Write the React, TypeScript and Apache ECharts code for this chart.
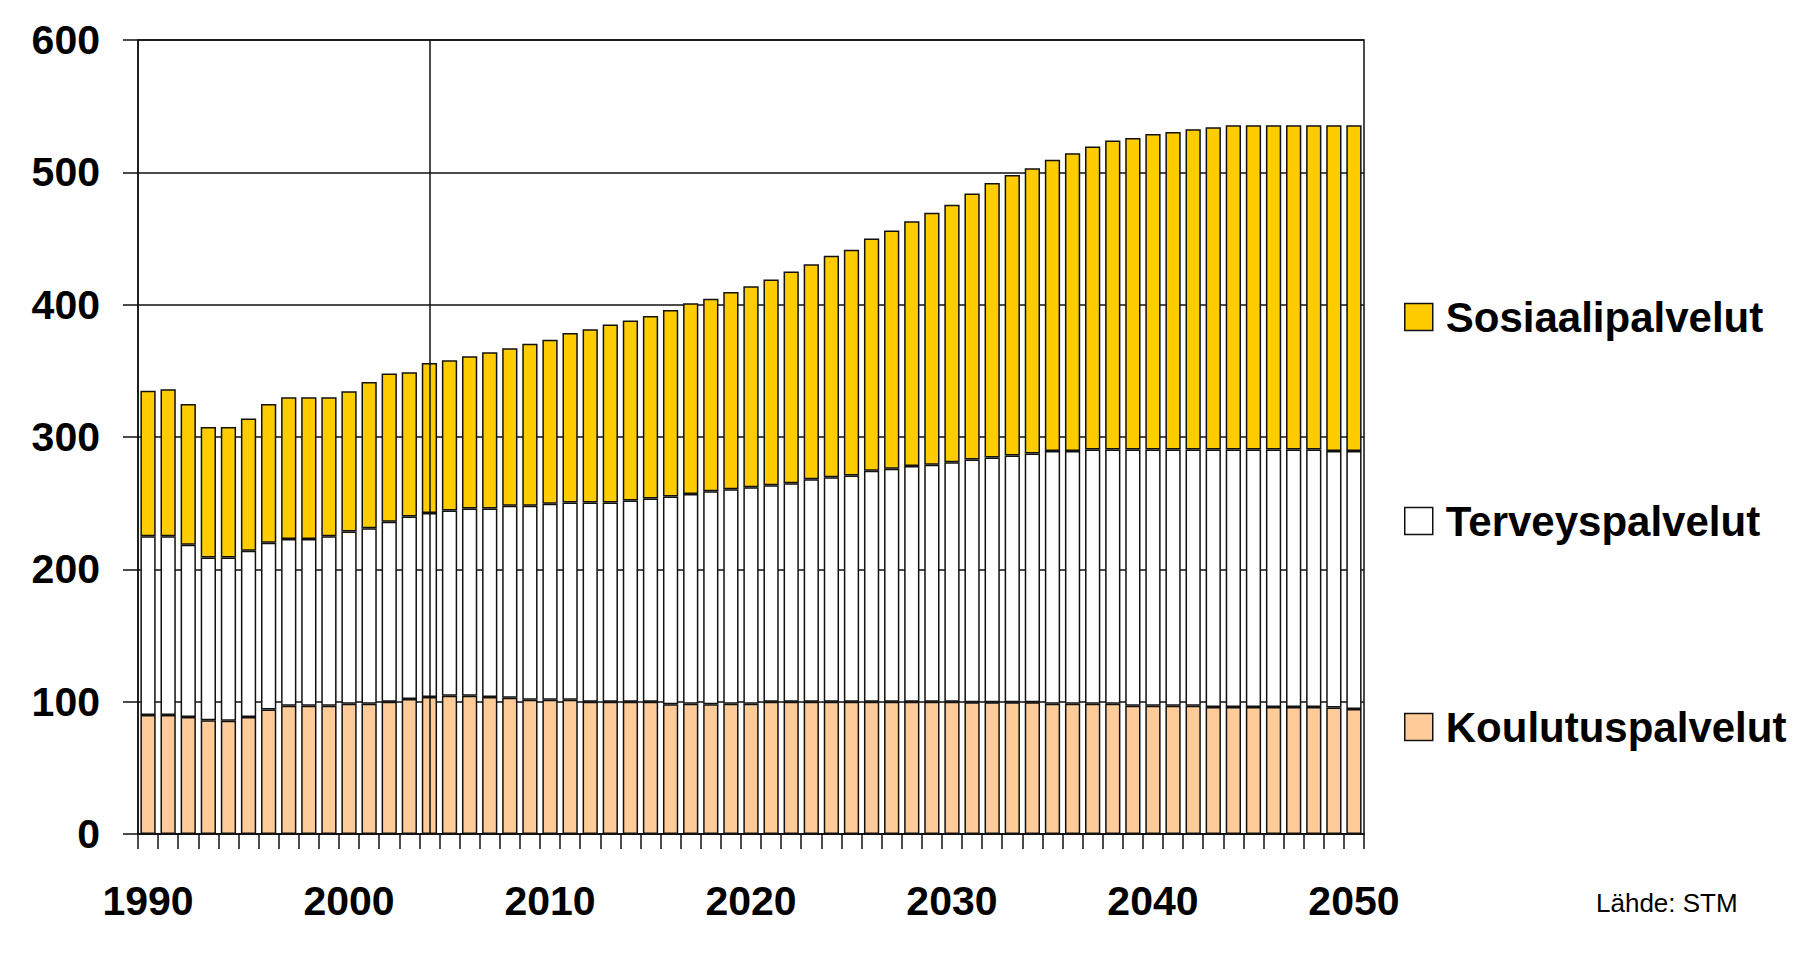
import React, { useEffect, useRef } from "react";
import * as echarts from "echarts";

const years: string[] = [];
for (let y = 1990; y <= 2050; y++) years.push(String(y));

// Segment values, order 1990..2050
const koulutus = [
  90, 90, 88.5, 86, 85.5, 88.5, 94, 97, 97, 97,
  98.5, 98.5, 100, 102, 103.5, 104.5, 104.5, 103.5, 103, 101.5,
  101.5, 101.5, 100, 100, 100, 100, 98, 98.5, 98, 98.5,
  98.5, 100, 100, 100, 100, 100, 100, 100, 100, 100,
  100, 99.5, 99.5, 99.5, 99.5, 98.5, 98.5, 98.5, 98.5, 97,
  97, 97, 97, 96, 96, 96, 96, 96, 96, 95.5,
  94.5,
];
const terveys = [
  135, 135, 130, 123, 123.5, 125.5, 126, 126, 126, 128,
  130, 132.5, 136, 138, 139, 140, 141.5, 142.5, 145, 146.5,
  148, 149, 150.5, 150.5, 152, 153.5, 157, 158.5, 161, 162,
  163.5, 163.5, 165, 168, 169.5, 171, 174.5, 176, 178, 179,
  181, 183.5, 185, 186.5, 188, 191, 191, 192, 192, 193.5,
  193.5, 193.5, 193.5, 194.5, 194.5, 194.5, 194.5, 194.5, 194.5, 194,
  195,
];
const sosiaali = [
  110, 111, 106.5, 98.5, 98.5, 100, 105, 107, 107, 105,
  106, 110.5, 112, 109, 113.5, 113.5, 115, 118, 119, 122.5,
  124, 128, 131, 134.5, 136, 138, 141, 144, 145.5, 149,
  152, 155.5, 160, 162.5, 167.5, 170.5, 175.5, 180, 185, 190.5,
  194.5, 201, 207.5, 212, 215.5, 220, 225, 229, 233.5, 235.5,
  238.5, 240, 242, 243.5, 245, 245, 245, 245, 245, 246,
  246,
];

const markerYear = "2004";
const sourceText = "Lähde: STM";

const FONT = "'Liberation Sans', Arial, sans-serif";
const COLORS = { sos: "#FFCC00", ter: "#FFFFFF", kou: "#FFCC99" };

export default function App() {
  const ref = useRef<HTMLDivElement>(null);
  useEffect(() => {
    if (!ref.current) return;
    const chart = echarts.init(ref.current, undefined, { renderer: "svg" });
    const barStyle = (color: string) => ({
      color,
      borderColor: "#111",
      borderWidth: 1.5,
    });
    const legendBase = (name: string, top: number) => ({
      data: [name],
      orient: "vertical",
      left: 1404,
      top,
      padding: 0,
      icon: "rect",
      itemWidth: 28,
      itemHeight: 27,
      selectedMode: false,
      itemStyle: { borderColor: "#111", borderWidth: 1.5 },
      textStyle: {
        fontFamily: FONT,
        fontSize: 42,
        fontWeight: "bold",
        color: "#000",
        padding: [0, 0, 0, 8],
      },
    });
    chart.setOption({
      animation: false,
      backgroundColor: "#fff",
      grid: {
        left: 138,
        top: 40,
        width: 1226,
        height: 794,
        show: true,
        borderColor: "#111",
        borderWidth: 1.5,
        backgroundColor: "transparent",
      },
      legend: [
        legendBase("Sosiaalipalvelut", 296),
        legendBase("Terveyspalvelut", 500),
        legendBase("Koulutuspalvelut", 706),
      ],
      xAxis: {
        type: "category",
        data: years,
        boundaryGap: true,
        axisLine: { show: true, lineStyle: { color: "#111", width: 1.5 } },
        axisTick: {
          show: true,
          interval: 0,
          length: 15,
          inside: false,
          lineStyle: { color: "#111", width: 1.5 },
        },
        axisLabel: {
          interval: 9,
          margin: 46,
          fontFamily: FONT,
          fontSize: 41,
          fontWeight: "bold",
          color: "#000",
        },
        splitLine: { show: false },
      },
      yAxis: {
        type: "value",
        min: 0,
        max: 600,
        interval: 100,
        axisLine: { show: true, lineStyle: { color: "#111", width: 1.5 } },
        axisTick: {
          show: true,
          length: 15,
          inside: false,
          lineStyle: { color: "#111", width: 1.5 },
        },
        axisLabel: {
          margin: 38,
          fontFamily: FONT,
          fontSize: 41,
          fontWeight: "bold",
          color: "#000",
        },
        splitLine: { show: true, lineStyle: { color: "#111", width: 1.5 } },
      },
      series: [
        {
          name: "Koulutuspalvelut",
          type: "bar",
          stack: "total",
          data: koulutus,
          barCategoryGap: "24%",
          itemStyle: barStyle(COLORS.kou),
          markLine: {
            silent: true,
            symbol: "none",
            label: { show: false },
            lineStyle: { color: "#111", width: 1.5, type: "solid" },
            data: [{ xAxis: markerYear }],
          },
        },
        {
          name: "Terveyspalvelut",
          type: "bar",
          stack: "total",
          data: terveys,
          barCategoryGap: "24%",
          itemStyle: barStyle(COLORS.ter),
        },
        {
          name: "Sosiaalipalvelut",
          type: "bar",
          stack: "total",
          data: sosiaali,
          barCategoryGap: "24%",
          itemStyle: barStyle(COLORS.sos),
        },
      ],
      graphic: [
        {
          type: "text",
          left: 1596,
          top: 890,
          style: {
            text: sourceText,
            fontFamily: FONT,
            fontSize: 26,
            fill: "#000",
          },
        },
      ],
    });
    return () => chart.dispose();
  }, []);
  return (
    <div
      ref={ref}
      style={{ position: "fixed", left: 0, top: 0, width: 1808, height: 956 }}
    />
  );
}
